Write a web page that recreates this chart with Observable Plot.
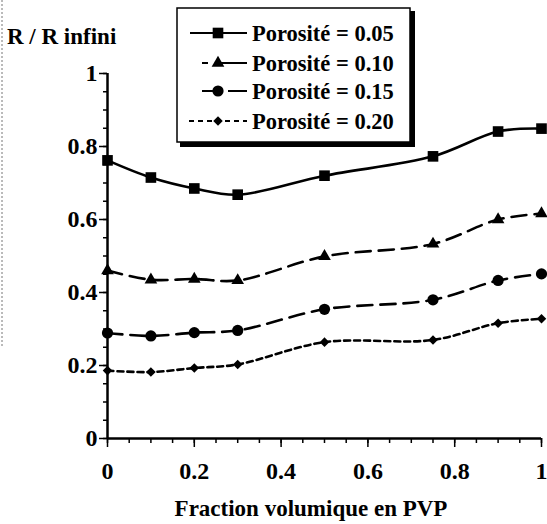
<!DOCTYPE html>
<html><head><meta charset="utf-8">
<script src="https://cdn.jsdelivr.net/npm/d3@7"></script>
<script src="https://cdn.jsdelivr.net/npm/@observablehq/plot@0.6"></script>
<style>
body{margin:0;background:#fff;}
</style></head><body>
<div id="chart"></div>
<script>
const fractions = [0, 0.1, 0.2, 0.3, 0.5, 0.75, 0.9, 1];
const seriesNames = ["Porosité = 0.05", "Porosité = 0.10", "Porosité = 0.15", "Porosité = 0.20"];
const p005 = [0.762, 0.715, 0.685, 0.668, 0.720, 0.773, 0.841, 0.849];
const p010 = [0.460, 0.435, 0.437, 0.433, 0.499, 0.533, 0.600, 0.616];
const p015 = [0.289, 0.281, 0.290, 0.296, 0.354, 0.380, 0.433, 0.451];
const p020 = [0.186, 0.182, 0.193, 0.203, 0.264, 0.270, 0.316, 0.328];
const majorTicks = [0, 0.2, 0.4, 0.6, 0.8, 1];
const tickLabels = ["0", "0.2", "0.4", "0.6", "0.8", "1"];
const minorTicks = d3.range(0, 1.0001, 0.05).map(v => +v.toFixed(2));

const symbols = ["square", "triangle", "circle", "diamond2"];
const dashes = [null, "15,8", "15,8", "6,4"];
const allSeries = [p005, p010, p015, p020];
const rows = [];
allSeries.forEach((vals, i) => vals.forEach((v, j) => rows.push({s: seriesNames[i], x: fractions[j], y: v, i})));

const W = 547, H = 524;
const FONT = "Liberation Serif";
const marks = [];
allSeries.forEach((vals, i) => {
  const d = rows.filter(r => r.i === i);
  marks.push(Plot.line(d, {x: "x", y: "y", stroke: "black", strokeWidth: 2.6, curve: "catmull-rom", strokeDasharray: dashes[i]}));
});
const symSize = [6, 4.7, 5.6, 4.3];
allSeries.forEach((vals, i) => {
  const d = rows.filter(r => r.i === i);
  marks.push(Plot.dot(d, {x: "x", y: "y", fill: "black", stroke: "none", symbol: symbols[i], r: symSize[i]}));
});

const chart = Plot.plot({
  width: W, height: H,
  marginLeft: 107, marginRight: 6, marginTop: 73, marginBottom: 86,
  x: {domain: [0, 1], label: null},
  y: {domain: [0, 1], label: null},
  style: `font-family: '${FONT}', serif; font-weight: bold; font-size: 23px; color: black; background: white;`,
  marks: [
    Plot.axisX(minorTicks, {tickSize: 5, text: null, strokeWidth: 1.5, label: null}),
    Plot.axisX(majorTicks, {tickSize: 9, tickPadding: 14, strokeWidth: 1.5, tickFormat: (d, k) => tickLabels[k], fontSize: 24, label: null}),
    Plot.axisY(minorTicks, {tickSize: 4, text: null, strokeWidth: 1.5, label: null}),
    Plot.axisY(majorTicks, {tickSize: 8, tickPadding: 2, strokeWidth: 1.5, tickFormat: (d, k) => tickLabels[k], fontSize: 24, label: null}),
    Plot.ruleX([0], {strokeWidth: 2.5}),
    Plot.ruleY([0], {strokeWidth: 2.5}),
    ...marks
  ]
});
document.getElementById("chart").appendChild(chart);

const svg = d3.select(chart);
// enlarge tick labels
svg.selectAll('g[aria-label$="tick label"]').style("font-size", "24px").attr("font-size", 24);
svg.selectAll('g[aria-label$="tick label"] text').style("font-size", "24px");
// y title
svg.append("text").attr("x", 7).attr("y", 44).attr("text-anchor", "start").attr("font-size", 23).text("R / R infini");
// x title
svg.append("text").attr("x", 311).attr("y", 516).attr("text-anchor", "middle").attr("font-size", 23).text("Fraction volumique en PVP");
// left dotted border
svg.append("line").attr("x1", 2).attr("x2", 2).attr("y1", 0).attr("y2", 347).attr("stroke", "#777").attr("stroke-dasharray", "2,2");

// legend
const lg = svg.append("g");
lg.append("rect").attr("x", 180).attr("y", 11).attr("width", 235).attr("height", 136).attr("fill", "black");
lg.append("rect").attr("x", 177).attr("y", 8).attr("width", 233).attr("height", 134).attr("fill", "white").attr("stroke", "black").attr("stroke-width", 1.5);
const symGen = [d3.symbolSquare, d3.symbolTriangle, d3.symbolCircle, d3.symbolDiamond2];
const symArea = [113, 70, 99, 58];
const rowY = [33, 63, 91, 121];
const legendDash = [null, "6,12,30", "12,14,30", "5,4"];
seriesNames.forEach((name, i) => {
  const y = rowY[i];
  lg.append("line").attr("x1", i === 3 ? 189 : (i === 0 ? 190 : 202)).attr("x2", 247).attr("y1", y).attr("y2", y)
    .attr("stroke", "black").attr("stroke-width", 2).attr("stroke-dasharray", legendDash[i]);
  lg.append("path").attr("d", d3.symbol(symGen[i], symArea[i])()).attr("transform", `translate(218,${y})`).attr("fill", "black");
  lg.append("text").attr("x", 252).attr("y", y + 8).attr("text-anchor", "start").attr("font-size", 22.5).text(name);
});
svg.selectAll("text").style("font-family", `'${FONT}', serif`).style("font-weight", "bold");
</script></body></html>
